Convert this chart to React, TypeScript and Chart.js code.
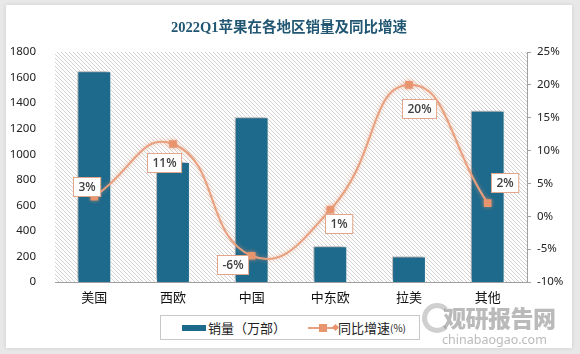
import React, { useEffect, useRef } from "react";
import { Chart, registerables } from "chart.js";

Chart.register(...registerables);

const categories = ["美国", "西欧", "中国", "中东欧", "拉美", "其他"];
const salesValues = [1650, 940, 1290, 280, 200, 1340];
const growthValues = [3, 11, -6, 1, 20, 2];
const leftTicks = [0, 1800, 200];
const rightTicks = [-10, 25, 5];

const TITLE = "2022Q1苹果在各地区销量及同比增速";
const SALES_LABEL = "销量（万部）";
const GROWTH_LABEL = "同比增速";

const BAR_COLOR = "#1E6A8C";
const LINE_COLOR = "#E9A07E";
const MARKER_COLOR = "#E8956F";

// label box offsets (relative to the point) for the growth data labels
const LABEL_OFFSETS: [number, number][] = [
  [-8, -10],
  [-9, 18],
  [-19, 9],
  [8, 14],
  [10, 24],
  [17, -21],
];

function makeHatch(): CanvasPattern | string {
  const c = document.createElement("canvas");
  c.width = 4;
  c.height = 4;
  const g = c.getContext("2d");
  if (!g) return "#fff";
  g.fillStyle = "#ffffff";
  g.fillRect(0, 0, 4, 4);
  g.fillStyle = "#d2d2d2";
  for (let i = 0; i < 4; i++) g.fillRect(i, i, 1, 1);
  const p = g.createPattern(c, "repeat");
  return p || "#fff";
}

const hatchPlugin = {
  id: "hatchBg",
  beforeDatasetsDraw(chart: any) {
    const { ctx, chartArea } = chart;
    ctx.save();
    ctx.fillStyle = makeHatch();
    ctx.fillRect(
      chartArea.left,
      chartArea.top,
      chartArea.right - chartArea.left,
      chartArea.bottom - chartArea.top
    );
    ctx.restore();
  },
};

const shadowPlugin = {
  id: "shadows",
  beforeDatasetDraw(chart: any, args: any) {
    const ctx = chart.ctx;
    ctx.save();
    if (args.index === 0) {
      ctx.shadowColor = "rgba(0,0,0,0.35)";
      ctx.shadowBlur = 4;
      ctx.shadowOffsetX = -2;
      ctx.shadowOffsetY = -2;
    } else {
      ctx.shadowColor = "rgba(233,150,110,0.6)";
      ctx.shadowBlur = 4;
    }
  },
  afterDatasetDraw(chart: any) {
    chart.ctx.restore();
  },
};

const labelPlugin = {
  id: "growthLabels",
  afterDatasetsDraw(chart: any) {
    const meta = chart.getDatasetMeta(1);
    const ctx = chart.ctx;
    ctx.save();
    ctx.font = "600 12px 'Open Sans', 'Noto Sans', sans-serif";
    ctx.textAlign = "center";
    ctx.textBaseline = "middle";
    meta.data.forEach((pt: any, i: number) => {
      const v = chart.data.datasets[1].data[i];
      const text = Math.round(v) + "%";
      const [dx, dy] = LABEL_OFFSETS[i];
      const cx = pt.x + dx;
      const cy = pt.y + dy;
      const w = ctx.measureText(text).width + 10;
      const h = 19;
      const x0 = Math.round(cx - w / 2) + 0.5;
      const y0 = Math.round(cy - h / 2) + 0.5;
      ctx.fillStyle = "#ffffff";
      ctx.fillRect(x0, y0, w, h);
      ctx.strokeStyle = "#E2A68A";
      ctx.lineWidth = 1;
      ctx.strokeRect(x0, y0, w, h);
      ctx.fillStyle = "#404040";
      ctx.fillText(text, x0 + w / 2, y0 + h / 2 + 0.5);
    });
    ctx.restore();
  },
};

export default function App() {
  const ref = useRef<HTMLCanvasElement | null>(null);

  useEffect(() => {
    if (!ref.current) return;
    const tickFont = { family: "'Noto Sans', sans-serif", size: 11.5 };
    const chart = new Chart(ref.current, {
      type: "bar",
      data: {
        labels: categories,
        datasets: [
          {
            type: "bar",
            label: SALES_LABEL,
            data: salesValues,
            backgroundColor: BAR_COLOR,
            borderColor: "#ffffff",
            borderWidth: 1,
            categoryPercentage: 1,
            barPercentage: 0.43,
            yAxisID: "y",
            order: 2,
          },
          {
            type: "line",
            label: GROWTH_LABEL,
            data: growthValues,
            borderColor: LINE_COLOR,
            borderWidth: 2,
            tension: 0.5,
            pointStyle: "rect",
            pointRadius: 4,
            pointBackgroundColor: MARKER_COLOR,
            pointBorderColor: MARKER_COLOR,
            yAxisID: "y1",
            order: 1,
          },
        ],
      },
      options: {
        responsive: false,
        animation: false,
        devicePixelRatio: 1,
        layout: { padding: { top: 47, bottom: 40, left: 0, right: 0 } },
        plugins: {
          legend: { display: false },
          tooltip: { enabled: false },
          title: { display: false },
        },
        scales: {
          x: {
            grid: { display: false, drawTicks: false },
            border: { display: true, color: "#a0a0a0", width: 1 },
            ticks: {
              color: "#111",
              font: { family: "'Noto Sans CJK SC', sans-serif", size: 13 },
              padding: 7,
            },
            afterFit: (s: any) => {
              s.height = 26;
            },
          },
          y: {
            position: "left",
            min: leftTicks[0],
            max: leftTicks[1],
            ticks: {
              stepSize: leftTicks[2],
              color: "#222",
              font: tickFont,
              padding: 11,
              callback: (v: any) => String(v),
            },
            grid: { display: false },
            border: { display: false },
            afterFit: (s: any) => {
              s.width = 49;
            },
          },
          y1: {
            position: "right",
            min: rightTicks[0],
            max: rightTicks[1],
            ticks: {
              stepSize: rightTicks[2],
              color: "#222",
              font: tickFont,
              padding: 6,
              callback: (v: any) => v + "%",
            },
            grid: {
              display: true,
              drawOnChartArea: false,
              drawTicks: true,
              tickLength: 4,
              color: "#a0a0a0",
            },
            border: { display: true, color: "#a0a0a0" },
            afterFit: (s: any) => {
              s.width = 45;
            },
          },
        },
      },
      plugins: [hatchPlugin, shadowPlugin, labelPlugin],
    } as any);
    return () => chart.destroy();
  }, []);

  return (
    <div
      style={{
        position: "fixed",
        left: 0,
        top: 0,
        width: 580,
        height: 354,
        background: "#e8e8e8",
        overflow: "hidden",
      }}
    >
      <div
        style={{
          position: "absolute",
          left: 6,
          top: 5,
          width: 566,
          height: 343,
          background: "#ffffff",
          boxShadow: "0 0 4px rgba(0,0,0,0.12)",
        }}
      >
        <canvas ref={ref} width={566} height={343} style={{ position: "absolute", left: 0, top: 0 }} />
        <div
          style={{
            position: "absolute",
            left: 0,
            top: 12,
            width: 566,
            textAlign: "center",
            fontFamily: "'Liberation Serif', 'Noto Sans CJK SC', serif",
            fontWeight: "bold",
            fontSize: 14.5,
            lineHeight: "20px",
            color: "#215772",
          }}
        >
          {TITLE}
        </div>
        <div
          style={{
            position: "absolute",
            left: 154,
            top: 310,
            width: 258,
            height: 23,
            border: "1px solid #c8c8c8",
            background: "#fff",
            fontFamily: "'Noto Sans CJK SC', sans-serif",
            fontSize: 13,
            color: "#222",
            display: "flex",
            alignItems: "center",
          }}
        >
          <div style={{ marginLeft: 21, width: 24, height: 6, background: BAR_COLOR }} />
          <span style={{ marginLeft: 2 }}>{SALES_LABEL}</span>
          <div style={{ position: "relative", marginLeft: 22, width: 30, height: 10 }}>
            <div style={{ position: "absolute", left: 0, top: 4, width: 28, height: 2, background: LINE_COLOR }} />
            <div style={{ position: "absolute", left: 11, top: 1, width: 8, height: 8, background: MARKER_COLOR }} />
            <div
              style={{
                position: "absolute",
                left: 25,
                top: 2.5,
                width: 5,
                height: 5,
                background: MARKER_COLOR,
                transform: "rotate(45deg)",
              }}
            />
          </div>
          <span>{GROWTH_LABEL}</span>
          <span style={{ fontSize: 10 }}>(%)</span>
        </div>
        <div
          style={{
            position: "absolute",
            left: 416,
            top: 298,
            width: 30,
            height: 30,
            borderRadius: "50%",
            border: "5px solid rgba(150,150,150,0.45)",
            borderRightColor: "transparent",
            boxSizing: "border-box",
          }}
        />
        <div
          style={{
            position: "absolute",
            left: 437,
            top: 297,
            fontFamily: "'Noto Sans CJK SC', sans-serif",
            fontWeight: 900,
            fontSize: 23,
            lineHeight: "30px",
            color: "rgba(140,140,140,0.6)",
            letterSpacing: -0.5,
          }}
        >
          观研报告网
        </div>
        <div
          style={{
            position: "absolute",
            left: 436,
            top: 327,
            fontFamily: "'Noto Sans', sans-serif",
            fontSize: 12.5,
            lineHeight: "16px",
            color: "rgba(140,140,140,0.6)",
          }}
        >
          chinabaogao.com
        </div>
      </div>
    </div>
  );
}
